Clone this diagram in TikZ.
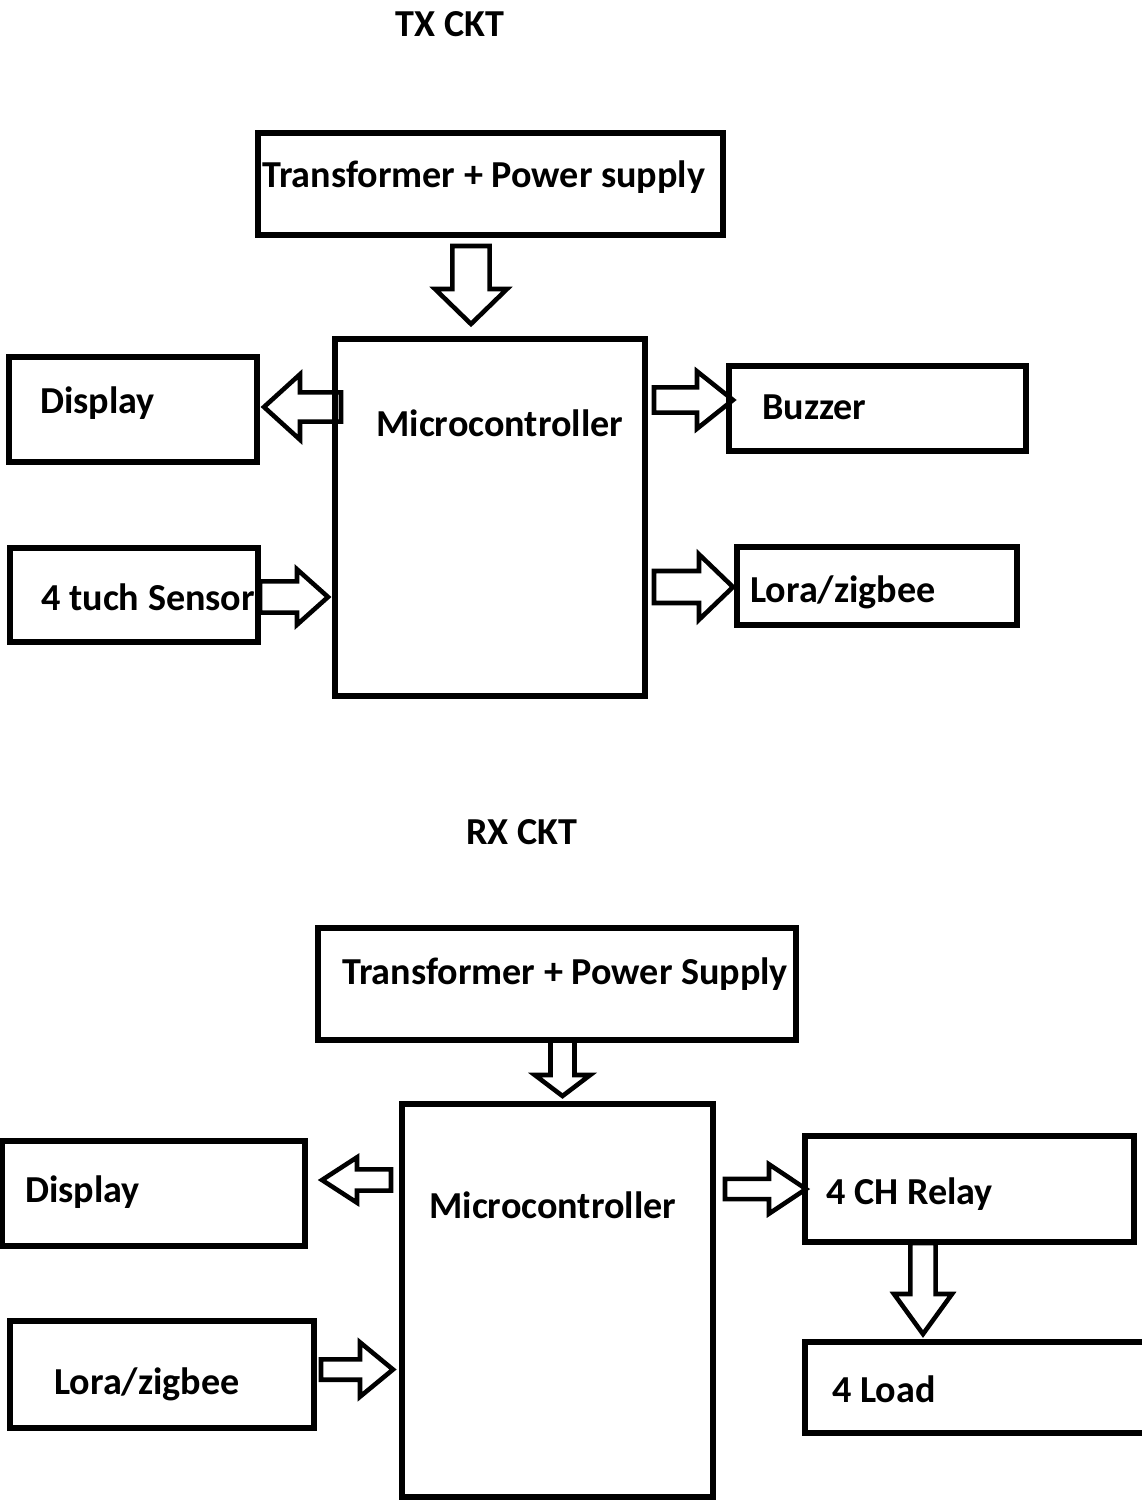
\documentclass[tikz,border=0pt]{standalone}
\usepackage{fontspec}
\setmainfont{Carlito}
\usetikzlibrary{calc,fit,positioning}
% hollow block arrow: tail, tip, shaft half width, head half width, head length (px)
\newcommand{\fatarrow}[5]{%
  \coordinate (fatbase) at ($(#2)!#5*0.02cm!(#1)$);
  \draw[fatline] ($(#1)!#3*0.02cm!90:(#2)$) -- ($(fatbase)!#3*0.02cm!90:(#2)$)
    -- ($(fatbase)!#4*0.02cm!90:(#2)$) -- (#2)
    -- ($(fatbase)!#4*0.02cm!-90:(#2)$) -- ($(fatbase)!#3*0.02cm!-90:(#2)$)
    -- ($(#1)!#3*0.02cm!-90:(#2)$) -- cycle;}

\begin{document}
\begin{tikzpicture}[x=0.02cm,y=-0.02cm,
  blk/.style={draw,line width=3pt,inner sep=0pt,rectangle},
  fatline/.style={line width=2.6pt,line join=miter},
  lbl/.style={font=\bfseries\fontsize{21.7}{26}\selectfont,inner sep=0pt,anchor=base west}]
  \clip (0,0) rectangle (1142,1501);

  % TX circuit
  \node[lbl,anchor=base] (txtitle) at (450,36) {TX CKT};
  \node[blk,fit={(258,133) (723,235)}] (txpwr) {};
  \node[blk,fit={(335,339) (645,696)}] (txmcu) {};
  \node[blk,fit={(9,357) (257,462)}] (txdisp) {};
  \node[blk,fit={(10,548) (258,642)}] (txsens) {};
  \node[blk,fit={(729,366) (1026,451)}] (txbuzz) {};
  \node[blk,fit={(737,547) (1017,625)}] (txlora) {};
  \node[lbl] at (262,187) {Transformer + Power supply};
  \node[lbl] at (376,436) {Microcontroller};
  \node[lbl] at (40,413) {Display};
  \node[lbl] at (41,610) {4 tuch Sensor};
  \node[lbl] at (762,419) {Buzzer};
  \node[lbl] at (750,602) {Lora/zigbee};

  \coordinate (ta1) at (471,246); \coordinate (tb1) at (471,324);
  \coordinate (ta2) at (341,407); \coordinate (tb2) at (264,407);
  \coordinate (ta3) at (260,597); \coordinate (tb3) at (328,597);
  \coordinate (ta4) at (654,400); \coordinate (tb4) at (733,400);
  \coordinate (ta5) at (654,587); \coordinate (tb5) at (733,587);
  \fatarrow{ta1}{tb1}{18.7}{36}{35}
  \fatarrow{ta2}{tb2}{14.7}{32.7}{36}
  \fatarrow{ta3}{tb3}{15.7}{27.7}{31}
  \fatarrow{ta4}{tb4}{12.7}{28.7}{36}
  \fatarrow{ta5}{tb5}{16}{32.7}{34}

  % RX circuit
  \node[lbl,anchor=base] (rxtitle) at (522,844) {RX CKT};
  \node[blk,fit={(318,928) (796,1040)}] (rxpwr) {};
  \node[blk,fit={(402,1104) (713,1497)}] (rxmcu) {};
  \node[blk,fit={(2,1141) (305,1246)}] (rxdisp) {};
  \node[blk,fit={(10,1321) (314,1428)}] (rxlora) {};
  \node[blk,fit={(805,1136) (1134,1242)}] (rxrelay) {};
  \node[blk,fit={(805,1342) (1170,1433)}] (rxload) {};
  \node[lbl] at (342,984) {Transformer + Power Supply};
  \node[lbl] at (429,1218) {Microcontroller};
  \node[lbl] at (25,1202) {Display};
  \node[lbl] at (54,1394) {Lora/zigbee};
  \node[lbl] at (826,1204) {4 CH Relay};
  \node[lbl] at (832,1402) {4 Load};

  \coordinate (ra1) at (562.5,1040); \coordinate (rb1) at (562.5,1096);
  \coordinate (ra2) at (391,1180); \coordinate (rb2) at (322,1180);
  \coordinate (ra3) at (321,1369.5); \coordinate (rb3) at (393,1369.5);
  \coordinate (ra4) at (725,1189); \coordinate (rb4) at (806,1189);
  \coordinate (ra5) at (923,1243); \coordinate (rb5) at (923,1334);
  \fatarrow{ra1}{rb1}{12}{27.7}{21}
  \fatarrow{ra2}{rb2}{10.7}{22.7}{35}
  \fatarrow{ra3}{rb3}{10.2}{27.2}{33}
  \fatarrow{ra4}{rb4}{10.2}{24.7}{37}
  \fatarrow{ra5}{rb5}{12.7}{29}{40}
\end{tikzpicture}
\end{document}
